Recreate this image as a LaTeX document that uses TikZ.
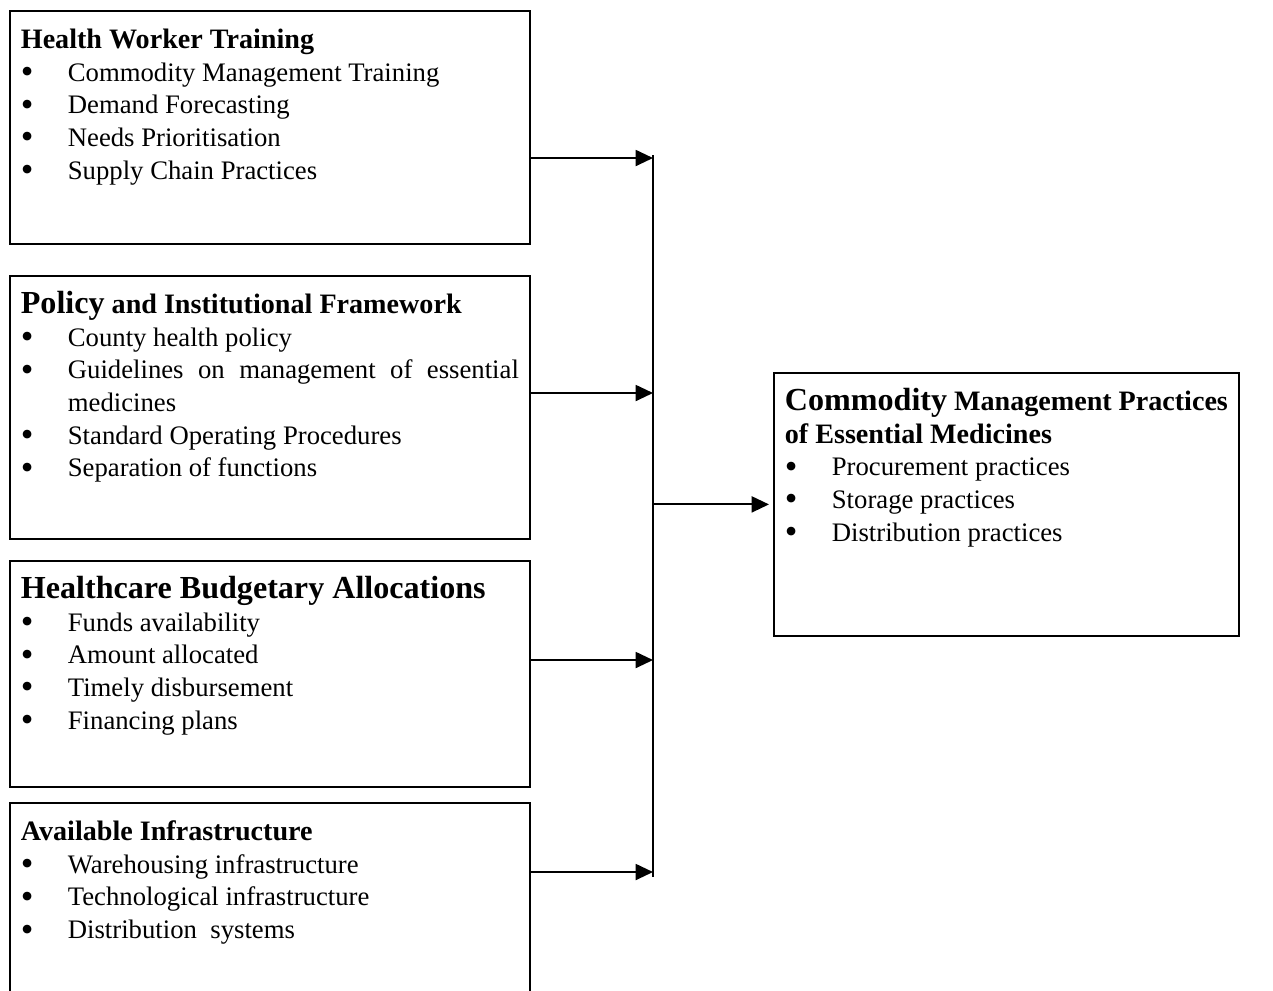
\documentclass[tikz,border=0pt]{standalone}
\usepackage{fontspec}
\setmainfont{Liberation Serif}
\usetikzlibrary{arrows.meta, positioning}

\newcommand{\bhead}[1]{{\fontsize{12}{13.9}\selectfont\rule{0pt}{10.5pt}\textbf{#1}\par}}
\newcommand{\bigpart}[1]{{\fontsize{13.7}{13.9}\selectfont #1}}
\newcommand{\bdot}{\raisebox{-0.2ex}{\scalebox{1.35}{\textbullet}}}
\newcommand{\bitem}[1]{\noindent\hangindent=0.705cm\hangafter=1\hbox to 0.705cm{\bdot\hfil}#1\par}
\newcommand{\leftcontent}[2]{\parbox[t][#1][t]{7.47cm}{#2}}

\begin{document}
\begin{tikzpicture}[x=0.015cm, y=-0.015cm,
    factor/.style={draw, line width=0.75pt, anchor=north west, inner xsep=0.165cm, inner ysep=0.2cm,
        font=\fontsize{11.4}{13.9}\selectfont},
    flow/.style={-{Triangle[length=0.26cm, width=0.24cm]}, line width=0.8pt}]
    \useasboundingbox (0,0) rectangle (1273,990);
    \clip (0,0) rectangle (1273,990);

    % independent variables
    \node[factor] (training) at (9,10) {\leftcontent{3.095cm}{%
        \bhead{Health Worker Training}
        \bitem{Commodity Management Training}
        \bitem{Demand Forecasting}
        \bitem{Needs Prioritisation}
        \bitem{Supply Chain Practices}}};
    \node[factor] (policy) at (9,275) {\leftcontent{3.545cm}{%
        \bhead{\bigpart{Policy} and Institutional Framework}
        \bitem{County health policy}
        \bitem{Guidelines on management of essential medicines}
        \bitem{Standard Operating Procedures}
        \bitem{Separation of functions}}};
    \node[factor] (budget) at (9,560) {\leftcontent{2.99cm}{%
        \bhead{\bigpart{Healthcare Budgetary Allocations}}
        \bitem{Funds availability}
        \bitem{Amount allocated}
        \bitem{Timely disbursement}
        \bitem{Financing plans}}};
    \node[factor] (infra) at (9,802) {\leftcontent{2.6cm}{%
        \bhead{Available Infrastructure}
        \bitem{Warehousing infrastructure}
        \bitem{Technological infrastructure}
        \bitem{Distribution~ systems}}};

    % dependent variable
    \node[factor] (practices) at (773,372) {\parbox[t][3.545cm][t]{6.645cm}{%
        \bhead{\bigpart{Commodity} Management Practices\\of Essential Medicines}
        \bitem{Procurement practices}
        \bitem{Storage practices}
        \bitem{Distribution practices}}};

    % joining line
    \coordinate (bustop) at (653,155);
    \coordinate (busbot) at (653,877);
    \coordinate (j1) at (653,158);
    \coordinate (j2) at (653,393);
    \coordinate (j3) at (653,660);
    \coordinate (j4) at (653,872);
    \draw[line width=0.8pt] (bustop) -- (busbot);

    \draw[flow] (training.east |- j1) -- (j1);
    \draw[flow] (policy.east |- j2) -- (j2);
    \draw[flow] (budget.east |- j3) -- (j3);
    \draw[flow] (infra.east |- j4) -- (j4);
    \draw[flow, shorten >=0.06cm] (bustop |- practices.west) -- (practices.west);
\end{tikzpicture}
\end{document}
